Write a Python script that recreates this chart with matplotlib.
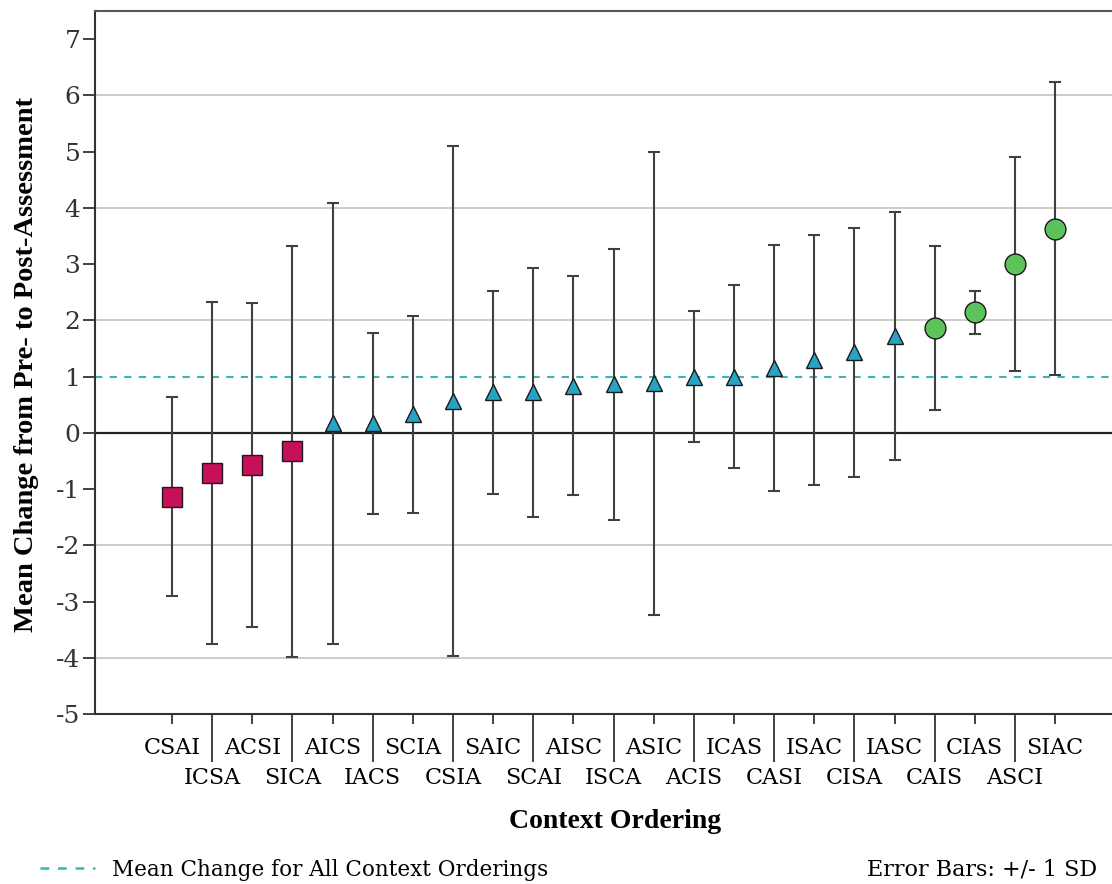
import numpy as np
import matplotlib
matplotlib.use("Agg")
import matplotlib.pyplot as plt
from matplotlib.lines import Line2D

# orderings sorted by mean change
orderings = ["CSAI", "ICSA", "ACSI", "SICA", "AICS", "IACS", "SCIA", "CSIA",
             "SAIC", "SCAI", "AISC", "ISCA", "ASIC", "ACIS", "ICAS", "CASI",
             "ISAC", "CISA", "IASC", "CAIS", "CIAS", "ASCI", "SIAC"]
mean_change = [-1.14, -0.72, -0.58, -0.33, 0.17, 0.17, 0.33, 0.57,
               0.72, 0.72, 0.84, 0.86, 0.88, 1.00, 1.00, 1.15,
               1.29, 1.43, 1.72, 1.86, 2.14, 3.00, 3.63]
sd_change = [1.77, 3.04, 2.88, 3.66, 3.92, 1.61, 1.75, 4.53,
             1.80, 2.21, 1.94, 2.41, 4.12, 1.16, 1.63, 2.19,
             2.22, 2.22, 2.21, 1.46, 0.38, 1.90, 2.61]
marker_group = ["low"] * 4 + ["mid"] * 15 + ["high"] * 4
overall_mean = 1.0

styles = {
    "low": ("s", "#c8105a", 15),
    "mid": ("^", "#27a3c4", 12),
    "high": ("o", "#5cc35c", 15),
}

plt.rcParams["font.family"] = "DejaVu Serif"
plt.rcParams["axes.unicode_minus"] = False

fig = plt.figure(figsize=(11.12, 8.84), dpi=100)
ax = fig.add_axes([95 / 1112, 1 - 714 / 884, 1 - 95 / 1112, (714 - 11) / 884])

x = np.arange(len(orderings))
means = np.array(mean_change)

for v in [-4, -2, 2, 4, 6]:
    ax.axhline(v, color="#c8c8c8", lw=1.3, zorder=1)
ax.axhline(0, color="#222222", lw=1.6, zorder=2)
ax.axhline(overall_mean, color="#3ab5b5", lw=1.5, ls=(0, (3.5, 3.5)), zorder=2)

ax.errorbar(x, means, yerr=sd_change, fmt="none", ecolor="#404040",
            elinewidth=1.5, capsize=4.5, capthick=1.5, zorder=3)

for g, (marker, color, size) in styles.items():
    idx = [i for i, gg in enumerate(marker_group) if gg == g]
    ax.plot(x[idx], means[idx], linestyle="none", marker=marker, ms=size,
            mfc=color, mec="#1a1a1a", mew=1.0, zorder=4)

ax.set_xlim(-(172 - 95) / 40.14, (1112 - 172) / 40.14)
ax.set_ylim(-5, 7.5)

ax.set_xticks(x[::2], orderings[::2])
ax.set_xticks(x[1::2], orderings[1::2], minor=True)
ax.tick_params(axis="x", which="major", length=7.2, width=1.3, pad=9,
               labelsize=16, color="#333333")
ax.tick_params(axis="x", which="minor", length=34.5, width=1.3, pad=4,
               labelsize=16, color="#333333")
ax.set_yticks(range(-5, 8))
ax.tick_params(axis="y", length=8.5, width=1.3, pad=2, labelsize=18,
               color="#333333", labelcolor="#333333")

ax.spines["right"].set_visible(False)
for side in ["left", "bottom", "top"]:
    ax.spines[side].set_linewidth(1.5)
    ax.spines[side].set_color("#333333")
ax.spines["top"].set_color("#555555")

fig.text(27 / 1112, 1 - 364 / 884, "Mean Change from Pre- to Post-Assessment",
         rotation=90, ha="center", va="center", fontsize=20.5,
         fontweight="bold", family="Liberation Serif")
fig.text(615 / 1112, 1 - 822 / 884, "Context Ordering", ha="center",
         va="center", fontsize=20, fontweight="bold", family="Liberation Serif")

fig.add_artist(Line2D([40 / 1112, 95 / 1112], [1 - 868 / 884, 1 - 868 / 884],
                      color="#3ab5b5", lw=1.8, ls=(0, (3.5, 3.5)),
                      transform=fig.transFigure))
fig.text(112 / 1112, 1 - 870 / 884, "Mean Change for All Context Orderings",
         ha="left", va="center", fontsize=15.5)
fig.text(1097 / 1112, 1 - 870 / 884, "Error Bars: +/- 1 SD", ha="right",
         va="center", fontsize=16)

fig.savefig("out.png", dpi=100)
